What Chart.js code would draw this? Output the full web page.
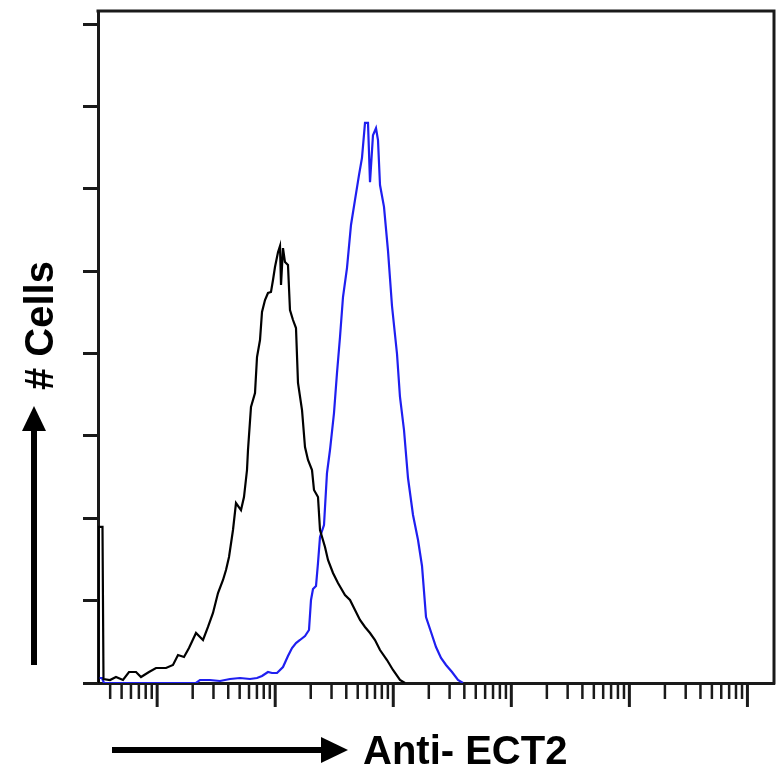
<!DOCTYPE html>
<html><head><meta charset="utf-8">
<script src="https://cdn.jsdelivr.net/npm/chart.js@4.4.1/dist/chart.umd.min.js"></script>
<style>html,body{margin:0;padding:0;background:#fff;overflow:hidden}</style>
</head><body>
<canvas id="c" width="777" height="774"></canvas>
<script>
// ---- data ----
const xAxisTitle = "Anti- ECT2";
const yAxisTitle = "# Cells";
const seriesNames = ["Isotype control", "Anti-ECT2"];
const xMin = 3.155, xMax = 1.679e6;          // fluorescence (log)
const yMin = 0, yMax = 163.16, yStep = 20;    // cell counts

const controlX = [3.186, 3.186, 3.444, 3.512, 3.987, 4.481, 5.136, 5.774, 6.622, 7.298, 8.531, 9.779, 11.89, 13.62, 15.02, 16.88, 18.61, 21.34, 24.46, 26.96, 29.72, 32.77, 36.13, 38.31, 40.62, 43.90, 46.55, 51.31, 54.40, 57.69, 58.82, 62.36, 67.44, 70.13, 74.35, 77.30, 81.95, 86.88, 92.11, 95.79, 99.59, 105.6, 109.8, 112.0, 116.4, 121.0, 128.3, 133.4, 141.5, 150.0, 156.0, 168.7, 178.8, 189.6, 205.0, 213.1, 230.4, 239.6, 264.1, 280.0, 308.7, 340.2, 390.0, 430.1, 474.2, 522.6, 576.3, 635.4, 700.4, 772.2, 885.1, 994.7, 1140, 1257];
const controlY = [0, 37.9, 37.9, 0.97, 0.73, 1.46, 0.73, 2.67, 2.67, 1.46, 2.67, 3.64, 3.64, 4.37, 6.80, 6.31, 8.50, 12.14, 10.44, 13.60, 17.00, 21.85, 25.01, 27.44, 30.59, 37.15, 43.70, 42.00, 45.16, 51.71, 56.57, 67.01, 70.41, 79.15, 83.28, 90.08, 92.99, 94.69, 94.93, 97.84, 101.0, 104.6, 106.1, 96.63, 105.6, 102.2, 101.5, 90.57, 88.13, 86.19, 72.84, 66.28, 57.30, 54.14, 51.71, 46.86, 45.16, 37.15, 33.02, 29.87, 26.71, 24.28, 21.37, 20.15, 17.72, 15.30, 13.60, 12.14, 10.44, 8.01, 5.58, 3.16, 0.73, 0];

const ect2X = [3.186, 3.411, 3.546, 21.34, 23.07, 28.03, 34.07, 41.42, 50.33, 61.17, 70.13, 77.30, 86.88, 93.93, 103.6, 116.4, 128.3, 138.8, 150.0, 162.2, 178.8, 193.3, 201.0, 209.0, 221.6, 230.4, 239.6, 259.0, 274.5, 291.1, 314.8, 333.7, 353.9, 375.2, 405.7, 438.5, 474.2, 512.5, 543.4, 576.3, 611.0, 635.4, 673.3, 714.0, 742.5, 772.2, 834.7, 902.6, 975.7, 1076, 1140, 1233, 1333, 1470, 1621, 1752, 1894, 2088, 2302, 2538, 2798, 3145, 3534, 3897];
const ect2Y = [1.21, 1.21, 0, 0, 0.73, 0.73, 0.49, 0.97, 1.21, 0.97, 1.21, 1.70, 2.67, 2.43, 2.43, 3.88, 6.56, 8.50, 9.71, 10.44, 11.41, 12.87, 20.15, 22.82, 23.55, 29.13, 35.45, 38.36, 50.99, 56.57, 65.55, 75.26, 84.00, 93.72, 100.8, 111.2, 117.3, 123.3, 127.5, 136.0, 136.0, 121.6, 133.0, 134.7, 131.8, 120.9, 115.6, 104.9, 91.53, 79.88, 69.44, 61.43, 49.77, 40.79, 34.72, 28.41, 16.02, 12.38, 8.74, 6.07, 4.37, 2.67, 0.73, 0];

// ---- styles ----
const axisColor = '#1a1a1a';
const controlColor = '#000000';
const ect2Color = '#1f1ff0';
const titleFont = 'bold 40px "Liberation Sans", Arial, sans-serif';

const toPoints = (xs, ys) => xs.map((v, i) => ({x: v, y: ys[i]}));

const decor = {
  id: 'decor',
  afterDraw(chart) {
    const {ctx, chartArea: a, scales: {x}} = chart;
    ctx.save();
    ctx.strokeStyle = axisColor;
    ctx.lineCap = 'butt';
    // top and right frame
    ctx.lineWidth = 3;
    ctx.beginPath();
    ctx.moveTo(a.left - 1.5, a.top);
    ctx.lineTo(a.right, a.top);
    ctx.lineTo(a.right, a.bottom + 1.5);
    ctx.stroke();
    // log ticks on x axis (long at decades)
    for (let e = 0; e <= 7; e++) {
      for (let m = 1; m <= 9; m++) {
        const v = m * Math.pow(10, e);
        if (v < x.min || v > x.max) continue;
        const px = x.getPixelForValue(v);
        ctx.lineWidth = m === 1 ? 3 : 2.5;
        ctx.beginPath();
        ctx.moveTo(px, a.bottom);
        ctx.lineTo(px, a.bottom + (m === 1 ? 24 : 16));
        ctx.stroke();
      }
    }
    // arrows
    ctx.fillStyle = '#000';
    ctx.strokeStyle = '#000';
    ctx.lineWidth = 6;
    // y arrow
    ctx.beginPath(); ctx.moveTo(34, 665); ctx.lineTo(34, 428); ctx.stroke();
    ctx.beginPath(); ctx.moveTo(34, 406); ctx.lineTo(22, 431); ctx.lineTo(46, 431); ctx.closePath(); ctx.fill();
    // x arrow
    ctx.beginPath(); ctx.moveTo(112, 750); ctx.lineTo(324, 750); ctx.stroke();
    ctx.beginPath(); ctx.moveTo(348, 750); ctx.lineTo(321, 737); ctx.lineTo(321, 763); ctx.closePath(); ctx.fill();
    // titles
    ctx.font = titleFont;
    ctx.textBaseline = 'alphabetic';
    ctx.textAlign = 'left';
    ctx.fillText(xAxisTitle, 363, 764);
    ctx.save();
    ctx.translate(53, 390);
    ctx.rotate(-Math.PI / 2);
    ctx.fillText(yAxisTitle, 0, 0);
    ctx.restore();
    ctx.restore();
  }
};

new Chart(document.getElementById('c'), {
  type: 'scatter',
  data: {
    datasets: [
      { label: seriesNames[0], data: toPoints(controlX, controlY), showLine: true,
        borderColor: controlColor, borderWidth: 2.2, pointRadius: 0, tension: 0, fill: false },
      { label: seriesNames[1], data: toPoints(ect2X, ect2Y), showLine: true,
        borderColor: ect2Color, borderWidth: 2.2, pointRadius: 0, tension: 0, fill: false }
    ]
  },
  options: {
    responsive: false,
    animation: false,
    devicePixelRatio: 1,
    layout: { padding: { top: 11, right: 3, left: 0, bottom: 0 } },
    plugins: { legend: { display: false }, tooltip: { enabled: false }, title: { display: false } },
    scales: {
      x: {
        type: 'logarithmic', position: 'bottom', min: xMin, max: xMax,
        ticks: { display: false },
        grid: { display: false },
        border: { display: true, color: axisColor, width: 3 },
        afterFit(s) { s.height = 91; }
      },
      y: {
        type: 'linear', position: 'left', min: yMin, max: yMax,
        ticks: { display: false, stepSize: yStep, includeBounds: false },
        grid: { display: true, drawOnChartArea: false, drawTicks: true, tickLength: 15, color: axisColor, lineWidth: 3 },
        border: { display: true, color: axisColor, width: 3 },
        afterFit(s) { s.width = 98; }
      }
    }
  },
  plugins: [decor]
});
</script>
</body></html>
